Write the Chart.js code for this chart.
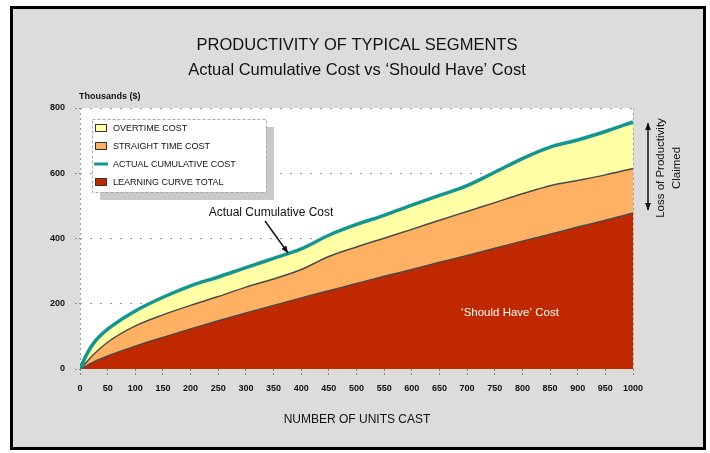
<!DOCTYPE html>
<html><head><meta charset="utf-8">
<script src="https://cdn.jsdelivr.net/npm/chart.js@4/dist/chart.umd.min.js"></script>
<style>html,body{margin:0;padding:0;background:#fff;}#wrap{width:710px;height:453px;position:relative}</style>
</head><body><div id="wrap"><canvas id="c" width="710" height="453"></canvas></div>
<script>
// ---- data ----
const units = [0,10,25,50,100,150,200,250,300,350,400,450,500,550,600,650,700,750,800,850,900,950,1000];
const learningCurveTotal = [0,8,22,40,70,97,123,148,172,195,218,240,262,284,305,327,348,370,392,413,435,456,478];
const straightTimeCost   = [0,18,45,82,132,166,195,222,251,276,305,345,374,401,428,456,483,510,537,562,578,595,615];
const actualCumulativeCost = [0,38,80,122,178,220,255,282,311,339,368,410,443,471,502,532,562,603,645,680,702,728,757];
const xTicks = [0,50,100,150,200,250,300,350,400,450,500,550,600,650,700,750,800,850,900,950,1000];
const yTicks = [0,200,400,600,800];
const legendLabels = ['OVERTIME COST','STRAIGHT TIME COST','ACTUAL CUMULATIVE COST','LEARNING CURVE TOTAL'];
const titleText = 'PRODUCTIVITY OF TYPICAL SEGMENTS';
const subtitleText = "Actual Cumulative Cost vs \u2018Should Have\u2019 Cost";

const FONT = '"Liberation Sans", Arial, Helvetica, sans-serif';
const COL = {bg:'#dcdcdc', yellow:'#ffffa6', orange:'#ffb163', teal:'#149590', red:'#c02800', edge:'#4a4a4a'};
const pts = arr => units.map((u,i)=>({x:u,y:arr[i]}));

const framePlugin = {
  id:'frame',
  beforeDraw(chart){
    const ctx = chart.ctx, a = chart.chartArea;
    ctx.save();
    ctx.fillStyle = '#fff'; ctx.fillRect(0,0,710,453);
    ctx.fillStyle = COL.bg; ctx.fillRect(10,6,696,444);
    ctx.strokeStyle = '#000'; ctx.lineWidth = 3; ctx.strokeRect(11.5,7.5,693,441);
    ctx.fillStyle = '#fff'; ctx.fillRect(a.left,a.top,a.right-a.left,a.bottom-a.top);
    ctx.restore();
  },
  beforeDatasetsDraw(chart){
    const ctx = chart.ctx, a = chart.chartArea;
    ctx.save();
    ctx.strokeStyle = '#9a9a9a'; ctx.lineWidth = 1; ctx.setLineDash([2,3]);
    ctx.beginPath(); ctx.moveTo(a.left+0.5,a.top); ctx.lineTo(a.left+0.5,a.bottom);
    ctx.moveTo(a.right+0.5,a.top); ctx.lineTo(a.right+0.5,a.bottom); ctx.stroke();
    ctx.restore();
  },
  afterDraw(chart){
    const ctx = chart.ctx;
    ctx.save();
    ctx.fillStyle = '#111'; ctx.textAlign = 'center'; ctx.textBaseline = 'middle';
    ctx.font = '16.5px ' + FONT; ctx.fillText(titleText, 357, 45);
    ctx.font = '16.5px ' + FONT; ctx.fillText(subtitleText, 357, 70);
    ctx.textAlign = 'left'; ctx.font = 'bold 9px ' + FONT; ctx.fillText('Thousands ($)', 79, 97);
    ctx.textAlign = 'center'; ctx.font = '12px ' + FONT; ctx.fillText('NUMBER OF UNITS CAST', 357, 420);

    // legend
    const lx = 92, ly = 119, lw = 174, lh = 73;
    ctx.fillStyle = '#c9c9c9'; ctx.fillRect(lx+8, ly+8, lw, lh);
    ctx.fillStyle = '#fff'; ctx.fillRect(lx, ly, lw, lh);
    ctx.strokeStyle = '#aaa'; ctx.lineWidth = 1; ctx.setLineDash([3,2]);
    ctx.strokeRect(lx+0.5, ly+0.5, lw, lh); ctx.setLineDash([]);
    const rows = [128,146,164,182];
    const sw = [COL.yellow, COL.orange, null, COL.red];
    ctx.font = '9px ' + FONT; ctx.textAlign = 'left';
    rows.forEach((y,i)=>{
      if (sw[i]) {
        ctx.fillStyle = sw[i]; ctx.fillRect(95, y-4, 12, 8);
        ctx.strokeStyle = '#333'; ctx.lineWidth = 1; ctx.strokeRect(95.5, y-3.5, 11, 7);
      } else {
        ctx.strokeStyle = COL.teal; ctx.lineWidth = 3;
        ctx.beginPath(); ctx.moveTo(94, y); ctx.lineTo(108, y); ctx.stroke();
      }
      ctx.fillStyle = '#111'; ctx.fillText(legendLabels[i], 113, y+0.5);
    });

    // annotation: Actual Cumulative Cost
    ctx.font = '12px ' + FONT; ctx.textAlign = 'center'; ctx.fillStyle = '#111';
    ctx.fillText('Actual Cumulative Cost', 271, 213);
    arrow(ctx, 265, 221, 288, 253, true, false);

    // should have cost
    ctx.fillStyle = '#fff'; ctx.font = '11.5px ' + FONT;
    ctx.fillText('\u2018Should Have\u2019 Cost', 510, 313);

    // loss of productivity
    arrow(ctx, 648, 123, 648, 210, true, true);
    ctx.save();
    ctx.translate(669, 168); ctx.rotate(-Math.PI/2);
    ctx.fillStyle = '#111'; ctx.font = '11.5px ' + FONT; ctx.textAlign = 'center';
    ctx.fillText('Loss of Productivity', 0, -8);
    ctx.fillText('Claimed', 0, 8);
    ctx.restore();
    ctx.restore();
  }
};
function arrow(ctx, x1, y1, x2, y2, endHead, startHead){
  ctx.save();
  ctx.strokeStyle = '#111'; ctx.fillStyle = '#111'; ctx.lineWidth = 1.5;
  ctx.beginPath(); ctx.moveTo(x1,y1); ctx.lineTo(x2,y2); ctx.stroke();
  const head = (xa,ya,xb,yb)=>{
    const ang = Math.atan2(yb-ya, xb-xa), L = 7, W = 3;
    ctx.beginPath(); ctx.moveTo(xb,yb);
    ctx.lineTo(xb - L*Math.cos(ang) + W*Math.sin(ang), yb - L*Math.sin(ang) - W*Math.cos(ang));
    ctx.lineTo(xb - L*Math.cos(ang) - W*Math.sin(ang), yb - L*Math.sin(ang) + W*Math.cos(ang));
    ctx.closePath(); ctx.fill();
  };
  if (endHead) head(x1,y1,x2,y2);
  if (startHead) head(x2,y2,x1,y1);
  ctx.restore();
}

new Chart(document.getElementById('c'), {
  type:'line',
  data:{
    datasets:[
      {label:legendLabels[0], data:pts(actualCumulativeCost), fill:'origin', backgroundColor:COL.yellow, borderWidth:0, borderColor:'rgba(0,0,0,0)', pointRadius:0, order:4},
      {label:legendLabels[1], data:pts(straightTimeCost), fill:'origin', backgroundColor:COL.orange, borderColor:COL.edge, borderWidth:1.5, pointRadius:0, order:3},
      {label:legendLabels[2], data:pts(actualCumulativeCost), fill:false, borderColor:COL.teal, borderWidth:3.5, pointRadius:0, order:1},
      {label:legendLabels[3], data:pts(learningCurveTotal), fill:'origin', backgroundColor:COL.red, borderColor:COL.edge, borderWidth:1.5, pointRadius:0, order:2}
    ]
  },
  options:{
    responsive:false, animation:false, devicePixelRatio:1,
    layout:{padding:{left:0, right:77, top:108, bottom:0}},
    elements:{line:{tension:0.35, cubicInterpolationMode:'monotone'}},
    plugins:{legend:{display:false}, tooltip:{enabled:false}, title:{display:false}},
    scales:{
      x:{type:'linear', min:0, max:1000,
        afterFit(s){ s.height = 84; },
        afterBuildTicks(s){ s.ticks = xTicks.map(v=>({value:v})); },
        ticks:{padding:8, maxRotation:0, autoSkip:false, color:'#111', font:{family:FONT, size:9, weight:'bold'}, callback:v=>String(v)},
        grid:{drawOnChartArea:false, tickLength:6, tickColor:'#888', tickBorderDash:[2,2]},
        border:{display:false}
      },
      y:{min:0, max:800,
        afterFit(s){ s.width = 80; },
        afterBuildTicks(s){ s.ticks = yTicks.map(v=>({value:v})); },
        ticks:{padding:10, color:'#111', font:{family:FONT, size:9, weight:'bold'}, callback:v=>String(v)},
        grid:{color:ctx=> ctx.tick && ctx.tick.value===0 ? 'rgba(0,0,0,0)' : '#999', lineWidth:1, tickLength:5, tickColor:'#888', tickBorderDash:[2,2]},
        border:{display:false, dash:[2,8]}
      }
    }
  },
  plugins:[framePlugin]
});
</script></body></html>
